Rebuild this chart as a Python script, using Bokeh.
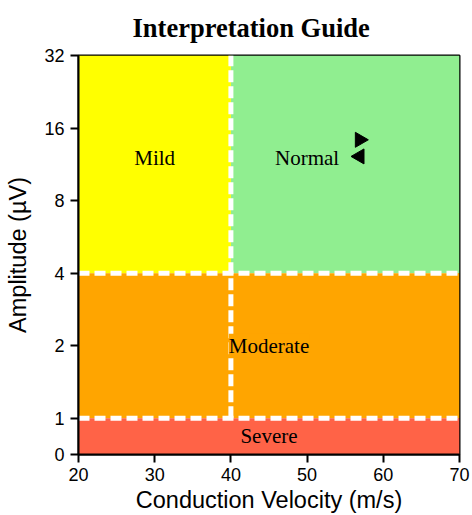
import math
from bokeh.plotting import figure
from bokeh.models import FixedTicker, Label, ColumnDataSource
from bokeh.embed import file_html
from bokeh.resources import INLINE

# ---- data ----
title_text = "Interpretation Guide"
regions = ["Mild", "Normal", "Moderate", "Severe"]
cv_lo = [20, 40, 20, 20]
cv_hi = [40, 70, 70, 70]
amp_lo = [4, 4, 1, 0]
amp_hi = [32, 32, 4, 1]
region_colors = ["#FFFF00", "#90EE90", "#FFA500", "#FF6347"]
label_cv = [30, 50, 45, 45]
label_amp = [12, 12, 2, 0.5]

amp_thresholds = [4, 1]
cv_threshold = 40
cv_range = [20, 70]
amp_top = 32

marker_cv = [56.9, 56.9]
marker_amp = [14.3, 12.2]
marker_angle = [-math.pi / 2, math.pi / 2]

amp_ticks = [0, 1, 2, 4, 8, 16, 32]
cv_ticks = [20, 30, 40, 50, 60, 70]


def amp_axis(a):
    # axis: log2 for a >= 1, with 0 placed half a doubling below 1
    if a >= 1:
        return math.log2(a)
    return -0.5 + 0.5 * a


p = figure(width=472, height=515, x_range=(20, 70), y_range=(-0.5, 5),
           output_backend="svg", toolbar_location=None,
           min_border_left=78, min_border_right=13, min_border_top=55,
           min_border_bottom=58)

p.title.text = title_text
p.title.text_font = "Liberation Serif"
p.title.text_font_size = "26.5px"
p.title.text_font_style = "bold"
p.title.text_color = "black"
p.title.align = "left"
p.title.offset = 54
p.title.vertical_align = "top"
p.title.standoff = 22

src = ColumnDataSource(dict(
    left=cv_lo, right=cv_hi,
    bottom=[amp_axis(a) for a in amp_lo], top=[amp_axis(a) for a in amp_hi],
    color=region_colors))
p.quad(left="left", right="right", bottom="bottom", top="top",
       fill_color="color", line_color=None, source=src)

# dashed threshold lines
for a in amp_thresholds:
    p.line(cv_range, [amp_axis(a), amp_axis(a)], line_color="white",
           line_width=5, line_dash="11 5")
p.line([cv_threshold, cv_threshold], [amp_axis(1), amp_axis(amp_top)],
       line_color="white", line_width=5, line_dash="12 4")

# region labels
for name, x, a, c in zip(regions, label_cv, label_amp, region_colors):
    lab = Label(x=x, y=amp_axis(a), text=name, text_font="Liberation Serif",
                text_font_size="21px", text_align="center",
                text_baseline="middle", text_color="black")
    if name == "Moderate":
        lab.background_fill_color = c
    p.add_layout(lab)

# markers
p.scatter(marker_cv, [amp_axis(a) for a in marker_amp], marker="triangle",
          angle=marker_angle, size=15, fill_color="black", line_color="black")

# axes
p.xgrid.visible = False
p.ygrid.visible = False
p.outline_line_color = "black"
p.outline_line_width = 2

p.xaxis.ticker = FixedTicker(ticks=cv_ticks)
p.yaxis.ticker = FixedTicker(ticks=[amp_axis(a) for a in amp_ticks])
p.yaxis.major_label_overrides = {amp_axis(a): str(a) for a in amp_ticks}

for ax in (p.xaxis[0], p.yaxis[0]):
    ax.axis_line_width = 2
    ax.axis_line_color = "black"
    ax.major_tick_line_width = 2
    ax.major_tick_in = 0
    ax.major_tick_out = 8
    ax.minor_tick_line_color = None
    ax.major_label_text_font = "Liberation Sans"
    ax.major_label_text_font_size = "18px"
    ax.major_label_text_color = "black"
    ax.axis_label_text_font = "Liberation Sans"
    ax.axis_label_text_font_size = "23.5px"
    ax.axis_label_text_font_style = "normal"
    ax.axis_label_text_color = "black"

p.xaxis.axis_label = "Conduction Velocity (m/s)"
p.yaxis.axis_label = "Amplitude (µV)"
p.xaxis.major_label_standoff = 5
p.yaxis.major_label_standoff = 6
p.xaxis.axis_label_standoff = 3
p.yaxis.axis_label_standoff = 10

open("out.html", "w").write(file_html(p, INLINE))
